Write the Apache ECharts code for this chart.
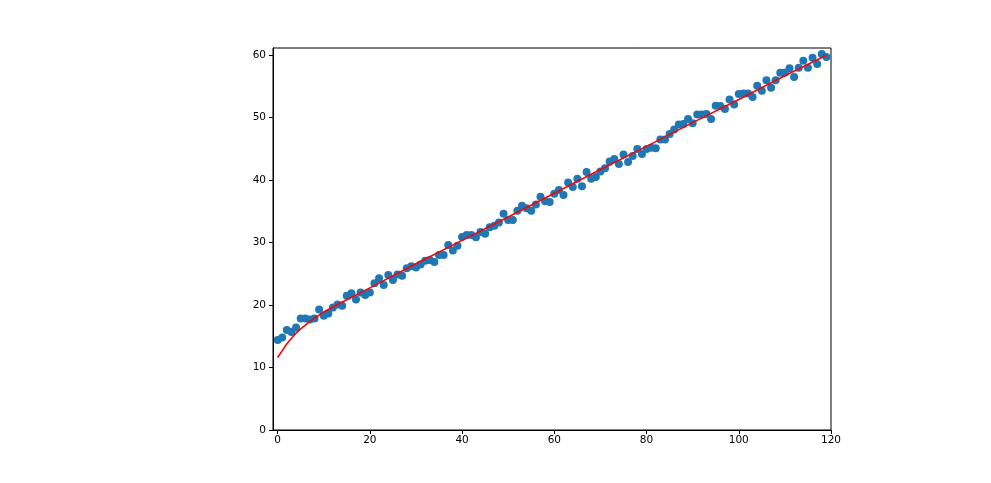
<!DOCTYPE html>
<html>
<head>
<meta charset="utf-8">
<script src="https://cdn.jsdelivr.net/npm/echarts@6/dist/echarts.min.js"></script>
<style>
html,body{margin:0;padding:0;background:#fff;}
#chart{width:991px;height:483px;}
</style>
</head>
<body>
<div id="chart"></div>
<script>
// Observed points (x = 0..119)
const pointY = [
  14.4, 14.8, 16.0, 15.7, 16.4, 17.85, 17.85, 17.7, 17.85, 19.3,
  18.3, 18.65, 19.6, 20.1, 19.9, 21.5, 21.9, 20.9, 22.0, 21.6,
  22.0, 23.5, 24.3, 23.2, 24.8, 24.0, 24.9, 24.7, 25.9, 26.2,
  26.0, 26.5, 27.1, 27.2, 26.9, 28.0, 28.0, 29.6, 28.75, 29.5,
  30.9, 31.2, 31.2, 30.85, 31.7, 31.4, 32.45, 32.7, 33.2, 34.6,
  33.6, 33.6, 35.1, 35.9, 35.5, 35.1, 36.1, 37.35, 36.6, 36.5,
  37.8, 38.4, 37.6, 39.6, 38.9, 40.2, 39.0, 41.3, 40.2, 40.5,
  41.4, 41.9, 43.0, 43.4, 42.6, 44.1, 42.9, 43.85, 45.0, 44.2,
  45.0, 45.2, 45.1, 46.5, 46.5, 47.4, 48.1, 48.9, 49.0, 49.8,
  49.1, 50.5, 50.5, 50.6, 49.8, 51.9, 51.85, 51.4, 52.9, 52.1,
  53.8, 53.85, 53.85, 53.3, 55.1, 54.3, 56.0, 54.8, 56.0, 57.2,
  57.2, 57.9, 56.5, 58.0, 59.1, 58.0, 59.6, 58.6, 60.2, 59.7
];

// Fitted (red) curve, read at these x positions
const fitX = [0, 1, 2, 3, 4, 5, 6, 7, 8, 9, 10, 12, 14, 16, 20, 30, 40, 50, 60, 70, 80, 90, 100, 110, 119];
const fitY = [11.6, 12.7, 13.8, 14.7, 15.5, 16.2, 16.8, 17.4, 17.9, 18.4, 18.9, 19.7, 20.5, 21.2, 22.75, 26.6, 30.35, 34.1, 37.9, 41.7, 45.4, 49.2, 52.9, 56.7, 60.0];

const xTicks = [0, 20, 40, 60, 80, 100, 120];
const yTicks = [0, 10, 20, 30, 40, 50, 60];

const scatterData = pointY.map((v, i) => [i, v]);
const lineData = fitX.map((x, i) => [x, fitY[i]]);

const font = 'DejaVu Sans';
const chart = echarts.init(document.getElementById('chart'), null, {renderer: 'canvas'});
chart.setOption({
  backgroundColor: '#ffffff',
  animation: false,
  title: {
    text: '.',
    left: 631,
    top: 36,
    textStyle: {fontSize: 5, color: '#999', fontFamily: font, fontWeight: 'normal'}
  },
  grid: {
    left: 273, right: 160, top: 48, bottom: 53,
    show: true, borderColor: '#000', borderWidth: 1, backgroundColor: 'transparent'
  },
  xAxis: {
    type: 'value', min: -1, max: 120,
    splitLine: {show: false},
    axisLine: {show: true, onZero: false, lineStyle: {color: '#000', width: 1}},
    axisTick: {show: true, length: 4, customValues: xTicks, lineStyle: {color: '#000'}},
    axisLabel: {customValues: xTicks, color: '#000', fontFamily: font, fontSize: 10.5, margin: 5}
  },
  yAxis: {
    type: 'value', min: 0, max: 61.15,
    splitLine: {show: false},
    axisLine: {show: true, onZero: false, lineStyle: {color: '#000', width: 1}},
    axisTick: {show: true, length: 4, customValues: yTicks, lineStyle: {color: '#000'}},
    axisLabel: {customValues: yTicks, color: '#000', fontFamily: font, fontSize: 10.5, margin: 7}
  },
  series: [
    {
      type: 'scatter',
      data: scatterData,
      symbol: 'circle',
      symbolSize: 8,
      itemStyle: {color: '#1f77b4', opacity: 1},
      z: 2
    },
    {
      type: 'line',
      data: lineData,
      showSymbol: false,
      smooth: false,
      lineStyle: {color: '#ff0000', width: 1.6},
      z: 3
    }
  ]
});
</script>
</body>
</html>
